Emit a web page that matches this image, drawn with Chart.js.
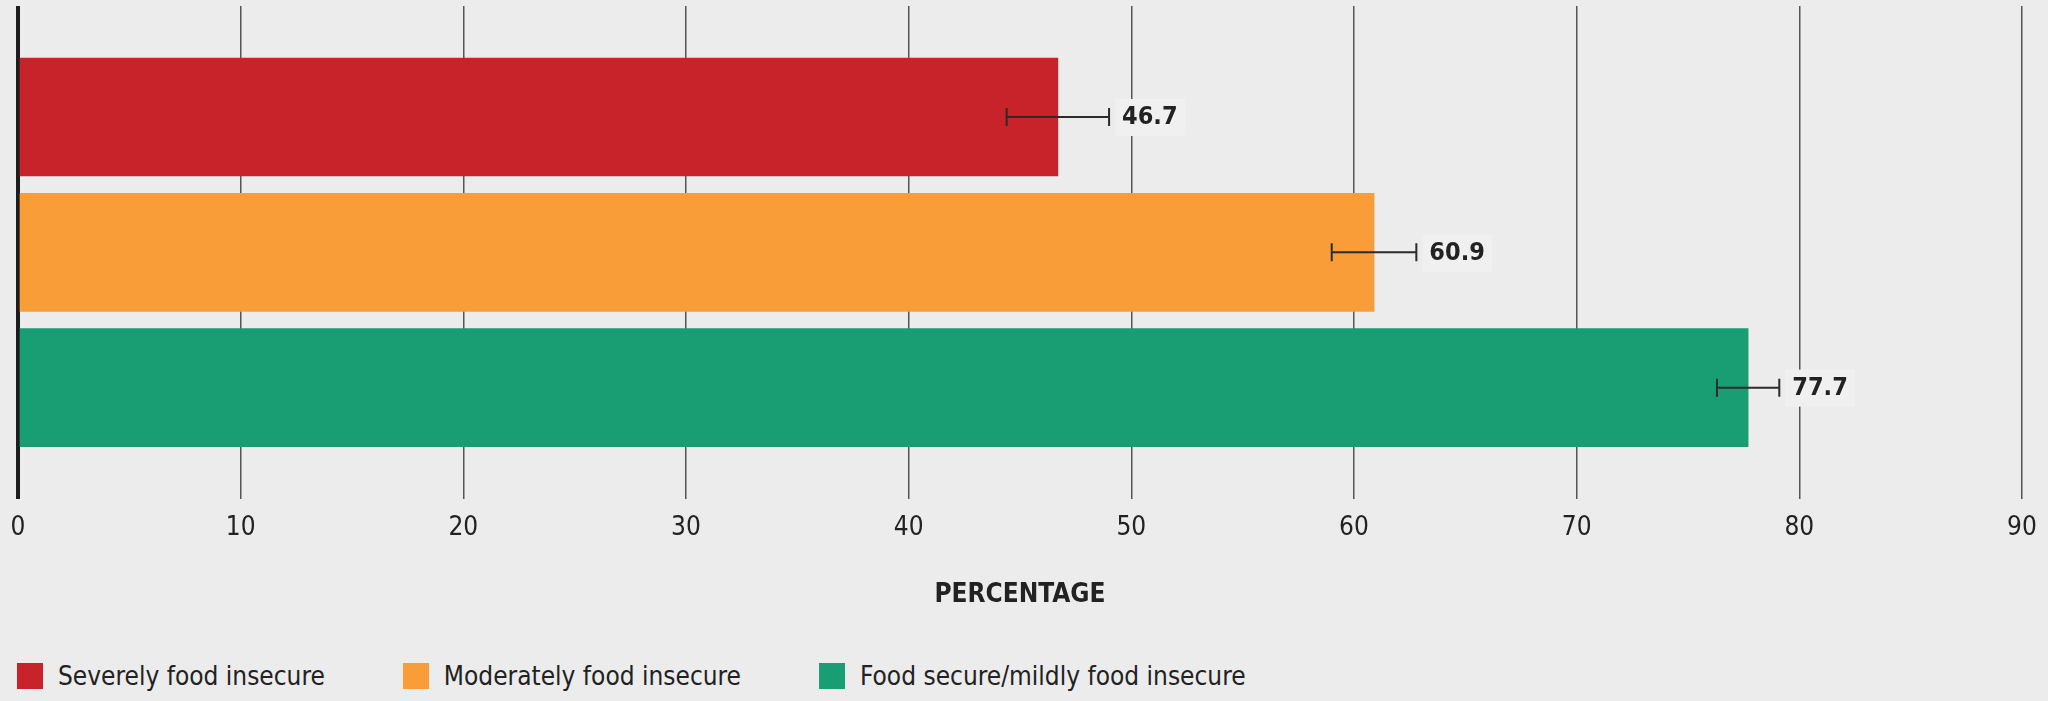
<!DOCTYPE html>
<html>
<head>
<meta charset="utf-8">
<script src="https://cdn.jsdelivr.net/npm/chart.js@4.4.1/dist/chart.umd.min.js"></script>
<style>
  body { margin: 0; background: #ececec; }
  #wrap { position: relative; width: 2048px; height: 701px; }
  #legend { position: absolute; left: 17px; top: 663px; display: flex; gap: 78px;
            font-family: 'DejaVu Sans Condensed', 'Liberation Sans Narrow', sans-serif; font-size: 26px; color: #222; }
  .item { display: flex; align-items: center; height: 26px; }
  .box { width: 26px; height: 26px; margin-right: 15px; }
</style>
</head>
<body>
<div id="wrap">
  <canvas id="ChartA" width="2048" height="611"></canvas>
  <div id="legend"></div>
</div>
<script>
// values
const categories = ["Severely food insecure", "Moderately food insecure", "Food secure/mildly food insecure"];
const values = [46.7, 60.9, 77.7];
const lowerBounds = [44.4, 59.0, 76.3];
const upperBounds = [49.0, 62.8, 79.1];
const barColors = ["#c8232a", "#f89d38", "#199e73"];
const xMin = 0;
const xMax = 90;
const xStep = 10;

const fontFamily = "'DejaVu Sans Condensed', 'Liberation Sans Narrow', sans-serif";

//error bars and the value labels next to them
const errorBarPlugin = {
	id: "errorBars",
	afterDatasetsDraw(chart)
	{
		const ctx = chart.ctx;
		const xScale = chart.scales.x;
		ctx.save();
		chart.data.datasets.forEach(function(ds, i)
		{
			const bar = chart.getDatasetMeta(i).data[0];
			const y = bar.y;
			const x1 = xScale.getPixelForValue(lowerBounds[i]);
			const x2 = xScale.getPixelForValue(upperBounds[i]);

			ctx.strokeStyle = "#2b2b2b";
			ctx.lineWidth = 2;
			ctx.beginPath();
			ctx.moveTo(x1, y); ctx.lineTo(x2, y);
			ctx.moveTo(x1, y - 9); ctx.lineTo(x1, y + 9);
			ctx.moveTo(x2, y - 9); ctx.lineTo(x2, y + 9);
			ctx.stroke();

			ctx.font = "bold 25px " + fontFamily;
			const txt = values[i].toFixed(1);
			const w = ctx.measureText(txt).width;
			ctx.fillStyle = "#f0f0f0";
			ctx.fillRect(x2 + 6, y - 18, w + 14, 37);
			ctx.fillStyle = "#222";
			ctx.textBaseline = "middle";
			ctx.fillText(txt, x2 + 13, y + 1);
		});
		ctx.restore();
	}
};

new Chart("ChartA",
{
	type: "bar",
	data:
	{
		datasets: categories.map(function(c, i)
		{
			return {
				label: c,
				data: [{x: values[i], y: i}],
				backgroundColor: barColors[i],
				borderWidth: 0
			};
		})
	},
	options:
	{
		indexAxis: "y",
		responsive: false,
		animation: false,
		devicePixelRatio: 1,
		grouped: false,
		barThickness: 118,
		layout: {padding: {top: 6, left: 0, right: 0, bottom: 0}},
		plugins:
		{
			legend: {display: false},
			tooltip: {enabled: false}
		},
		scales:
		{
			x:
			{
				type: "linear",
				min: xMin,
				max: xMax,
				afterFit: function(scale) { scale.paddingLeft = 18; scale.paddingRight = 26; },
				ticks: {stepSize: xStep, color: "#222", padding: 14, font: {family: fontFamily, size: 26}},
				grid:
				{
					drawTicks: false,
					color: function(c) { return c.tick && c.tick.value === 0 ? "#1c1c1c" : "#555"; },
					lineWidth: function(c) { return c.tick && c.tick.value === 0 ? 4 : 1.5; }
				},
				border: {display: false},
				title:
				{
					display: true,
					text: "PERCENTAGE",
					color: "#222",
					font: {family: fontFamily, size: 26, weight: "bold"},
					padding: {top: 22, bottom: 0}
				}
			},
			y:
			{
				type: "linear",
				reverse: true,
				offset: false,
				min: -0.82,
				max: 2.82,
				display: false
			}
		}
	},
	plugins: [errorBarPlugin]
});

//legend as plain html under the canvas
const legendDiv = document.getElementById("legend");
categories.forEach(function(c, i)
{
	const item = document.createElement("div");
	item.className = "item";
	item.innerHTML = '<span class="box" style="background:' + barColors[i] + '"></span><span>' + c + '</span>';
	legendDiv.appendChild(item);
});
</script>
</body>
</html>
